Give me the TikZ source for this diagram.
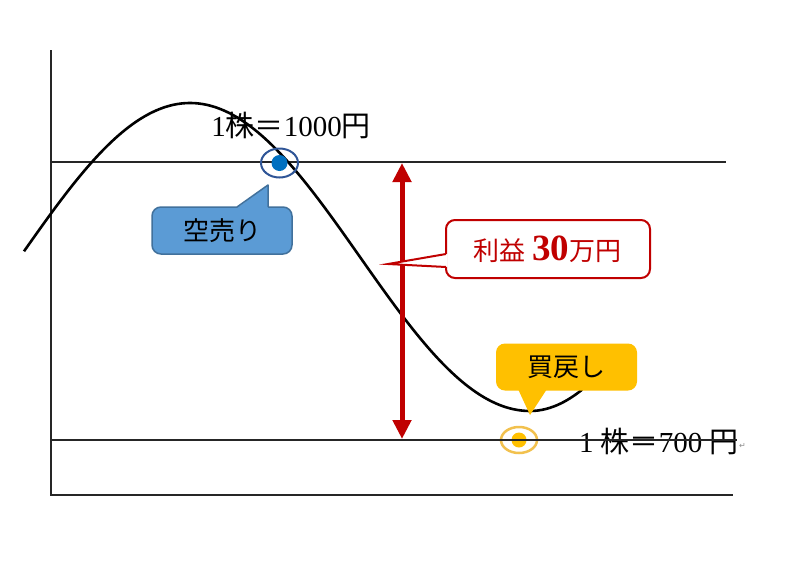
\documentclass[tikz,border=0pt]{standalone}
\usepackage{fontspec}
\setmainfont{Liberation Serif}
\newfontfamily\jp{Noto Sans CJK JP}
\newfontfamily\sym{DejaVu Sans}
\usetikzlibrary{arrows.meta,shapes.geometric}
\definecolor{cbluefill}{HTML}{5B9BD5}
\definecolor{cblueline}{HTML}{41719C}
\definecolor{cdot}{HTML}{0070C0}
\definecolor{cring}{HTML}{2F5597}
\definecolor{cred}{HTML}{C00000}
\definecolor{cgold}{HTML}{FFC000}
\definecolor{cgoldring}{HTML}{F2C14E}
\tikzset{
  axisline/.style={line width=1.6pt, black!85},
  curveline/.style={line width=2.6pt, black},
  callbox/.style={rounded corners=9pt, inner sep=0pt, minimum width=#1},
  bluebox/.style={fill=cbluefill, draw=cblueline, line width=1.5pt},
  redbox/.style={fill=white, draw=cred, line width=2pt},
  goldbox/.style={fill=cgold},
  lbl/.style={font=\fontsize{26}{26}\selectfont, inner sep=0pt},
  pricelbl/.style={font=\fontsize{29}{29}\selectfont, inner sep=0pt},
}
\begin{document}
\begin{tikzpicture}[x=1pt,y=-1pt]
\useasboundingbox (0,0) rectangle (800,576);
\fill[white] (0,0) rectangle (800,576);

% axes and level lines
\coordinate (ytop) at (51,50);
\coordinate (yorig) at (51,495);
\coordinate (xend) at (733,495);
\coordinate (h1a) at (51,162);
\coordinate (h1b) at (726,162);
\coordinate (h2a) at (51,440);
\coordinate (h2b) at (737,440);
\draw[axisline] (ytop) -- (yorig) -- (xend);
\draw[axisline] (h1a) -- (h1b);

% curve
\draw[curveline, line join=round] plot[domain=24:530, samples=110, smooth] (\x, {257-154*cos(0.529412*(\x-190))})
  -- plot[domain=530:582, samples=14, smooth] (\x, {411-188*(1-cos(0.529412*(\x-530)))});

% profit arrow
\coordinate (atop) at (402,163);
\coordinate (abot) at (402,439);
\draw[cred, line width=5pt, {Triangle[width=18pt,length=19pt]}-{Triangle[width=18pt,length=19pt]}] (atop) -- (abot);

% blue marker
\node[ellipse, draw=cring, line width=2pt, minimum width=37pt, minimum height=29pt, inner sep=0pt] (sellring) at (279.5,163) {};
\fill[cdot] (sellring.center) circle (8pt);
\node[pricelbl] (sellprice) at (291,125) {1{\jp 株＝}1000{\jp 円}};

% blue callout
\node[callbox=140pt, bluebox, minimum height=47pt] (sellbox) at (222,230.5) {};
\fill[cbluefill] (236,208.6) -- (268,185) -- (268,208.6) -- cycle;
\draw[cblueline, line width=1.5pt, line join=round] (237,207) -- (268,185) -- (268,207);
\node[lbl] (selltext) at (sellbox.center) {\jp 空売り};

% red callout
\node[callbox=204pt, redbox, minimum height=58pt] (profitbox) at (548,249) {};
\coordinate (ptip) at (388,264);
\fill[white] (447.5,254) -- (ptip) -- (447.5,267) -- cycle;
\draw[cred, line width=2pt, line join=miter] (446,254) -- (ptip) -- (446,267);
\node[inner sep=0pt, text=cred] (profittext) at (547,249) {{\jp\fontsize{26}{26}\selectfont 利益}\hspace{7pt}{\fontsize{37}{37}\selectfont\bfseries 30}{\jp\fontsize{26}{26}\selectfont 万円}};

% gold callout
\node[callbox=141pt, goldbox, minimum height=47pt] (buybox) at (566.5,367) {};
\fill[cgold] (518,389) -- (530,415) -- (547,389) -- cycle;
\node[lbl] (buytext) at (buybox.center) {\jp 買戻し};

% lower line, gold marker, price
\draw[axisline] (h2a) -- (h2b);
\node[ellipse, draw=cgoldring, line width=2.5pt, minimum width=36pt, minimum height=26pt, inner sep=0pt] (buyring) at (519,440) {};
\fill[cgold] (buyring.center) circle (7.5pt);
\node[pricelbl, anchor=west] (buyprice) at (579,441) {1 {\jp 株＝}700 {\jp 円}};
\node[inner sep=0pt, anchor=west, text=black!45, font=\sym\fontsize{8}{8}\selectfont] (pmark) at ([yshift=-5pt]buyprice.east) {↵};
\draw[axisline] (h2a) -- (h2b);
\end{tikzpicture}
\end{document}
